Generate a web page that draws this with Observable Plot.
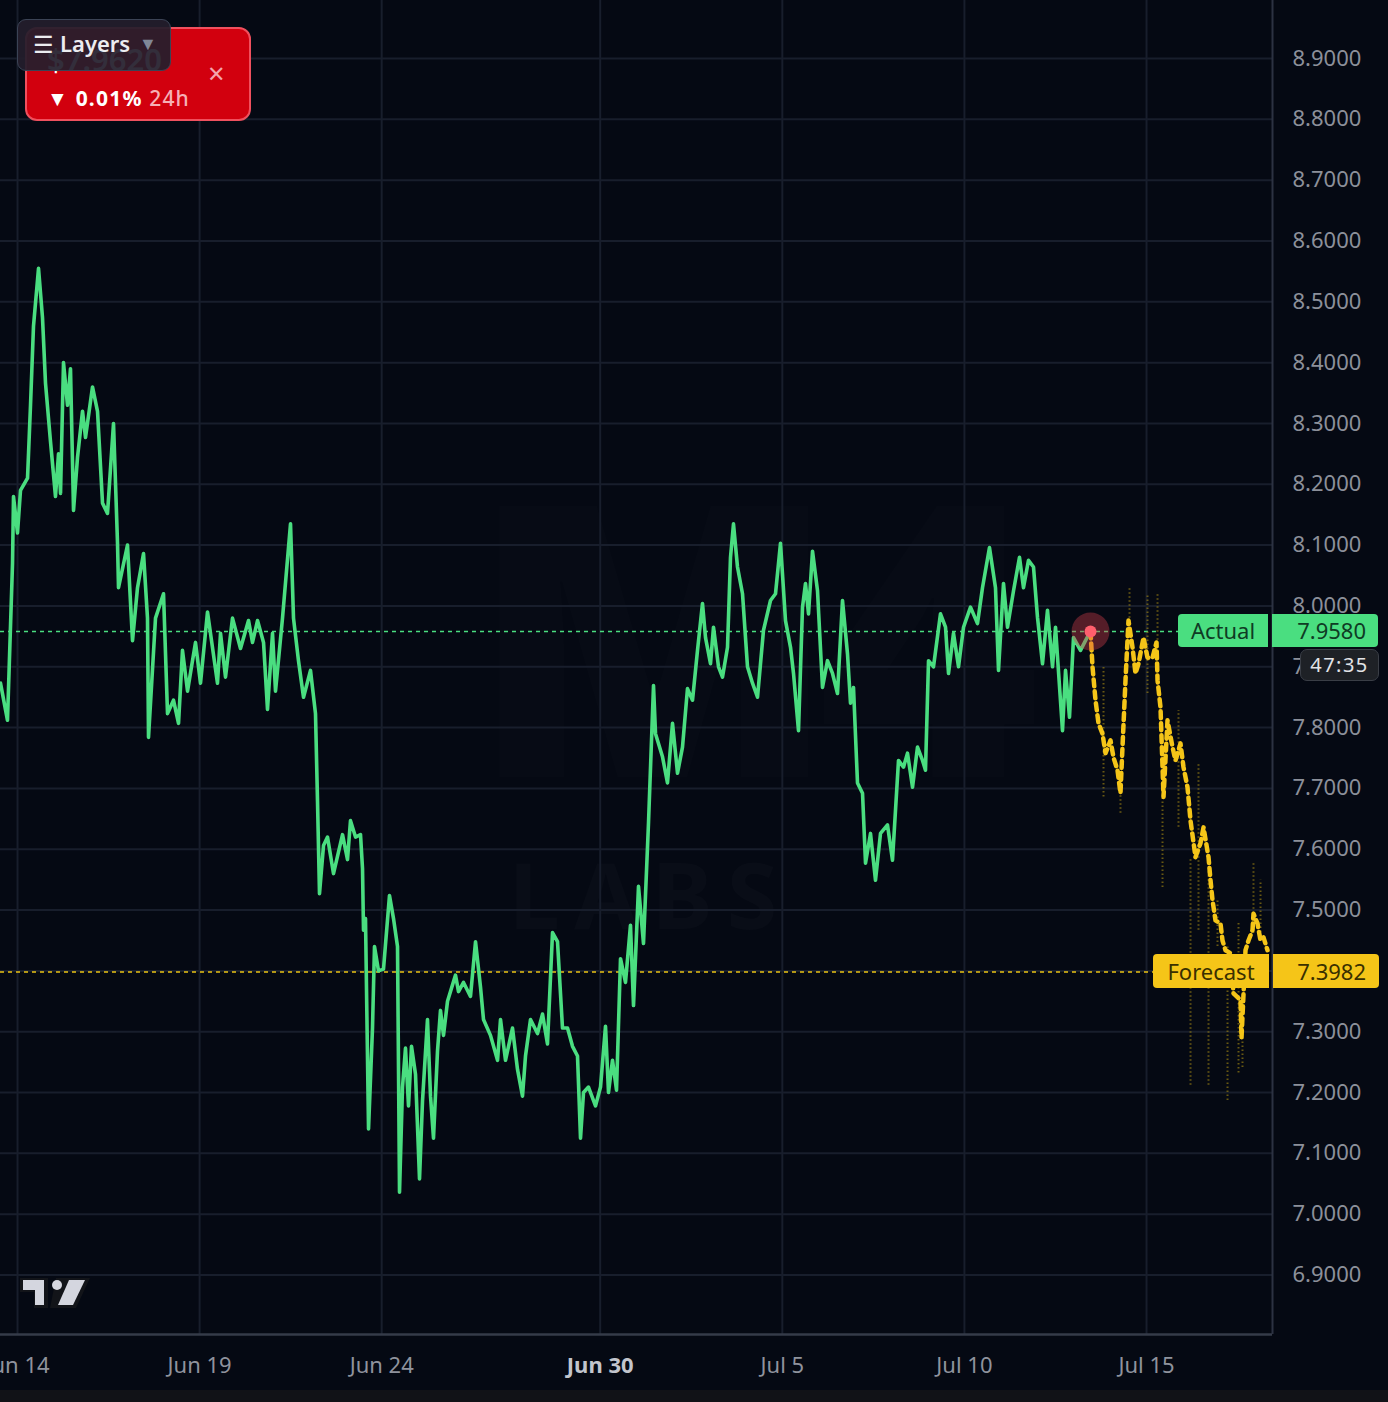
<!DOCTYPE html>
<html><head><meta charset="utf-8">
<script src="https://cdn.jsdelivr.net/npm/d3@7"></script>
<script src="https://cdn.jsdelivr.net/npm/@observablehq/plot@0.6"></script>
<style>
html,body{margin:0;padding:0;background:#050913;}
#wrap{position:relative;width:1388px;height:1402px;overflow:hidden;background:#050913;font-family:"Noto Sans",sans-serif;}
#band{position:absolute;left:0;top:1390px;width:1388px;height:12px;background:#111217;}
.abs{position:absolute;box-sizing:border-box;}
</style></head>
<body><div id="wrap"></div>
<script>
// ---- data (days since 14 Jun 2024 00:00 UTC) ----
const actualDay = [-0.467,-0.275,-0.137,-0.110,0,0.082,0.275,0.357,0.439,0.577,0.686,0.769,0.906,1.043,1.126,1.181,1.263,1.373,1.455,1.538,1.647,1.785,1.867,2.059,2.197,2.334,2.471,2.636,2.746,2.773,3.020,3.158,3.295,3.460,3.569,3.597,3.789,4.009,4.119,4.283,4.421,4.530,4.668,4.887,5.025,5.217,5.491,5.574,5.711,5.903,6.123,6.343,6.452,6.590,6.755,6.864,7.002,7.084,7.276,7.496,7.578,7.715,7.853,8.045,8.182,8.237,8.292,8.402,8.512,8.676,8.924,9.061,9.143,9.281,9.418,9.473,9.500,9.555,9.638,9.747,9.802,9.912,10.049,10.214,10.324,10.434,10.489,10.571,10.653,10.736,10.818,10.928,11.038,11.120,11.257,11.340,11.422,11.532,11.614,11.697,11.807,12.026,12.109,12.246,12.438,12.576,12.713,12.795,12.987,13.180,13.262,13.399,13.591,13.729,13.866,13.948,14.086,14.278,14.415,14.552,14.690,14.827,14.964,15.102,15.239,15.376,15.459,15.541,15.678,15.870,16.008,16.145,16.227,16.337,16.447,16.557,16.694,16.831,16.914,17.051,17.188,17.326,17.463,17.518,17.710,17.847,17.985,18.122,18.259,18.396,18.534,18.671,18.808,18.891,19.028,19.110,19.248,19.357,19.495,19.577,19.659,19.769,19.907,20.044,20.181,20.319,20.483,20.675,20.813,20.950,21.087,21.225,21.307,21.444,21.554,21.636,21.719,21.829,21.966,22.103,22.240,22.378,22.515,22.652,22.790,22.872,22.954,23.064,23.202,23.284,23.421,23.558,23.696,23.888,24.025,24.190,24.327,24.437,24.575,24.712,24.849,24.931,25.014,25.151,25.343,25.481,25.563,25.700,25.838,25.975,26.167,26.359,26.496,26.688,26.853,26.936,27.073,27.183,27.348,27.512,27.622,27.759,27.897,28.007,28.144,28.281,28.419,28.501,28.693,28.776,28.885,28.995,29.187,29.324,29.462];
const actualPrice = [7.873,7.812,8.07,8.18,8.12,8.19,8.21,8.33,8.46,8.555,8.474,8.366,8.27,8.18,8.25,8.185,8.40,8.33,8.39,8.157,8.244,8.32,8.277,8.36,8.32,8.169,8.152,8.30,8.103,8.03,8.10,7.943,8.03,8.086,7.98,7.784,7.98,8.02,7.823,7.845,7.807,7.927,7.86,7.94,7.873,7.99,7.873,7.955,7.883,7.98,7.93,7.976,7.94,7.976,7.94,7.83,7.955,7.86,7.98,8.135,7.98,7.91,7.85,7.894,7.823,7.68,7.527,7.606,7.62,7.56,7.624,7.583,7.647,7.62,7.624,7.568,7.467,7.486,7.14,7.306,7.44,7.40,7.403,7.524,7.486,7.44,7.036,7.209,7.273,7.178,7.276,7.23,7.058,7.186,7.32,7.194,7.125,7.268,7.335,7.294,7.35,7.393,7.366,7.381,7.358,7.448,7.373,7.32,7.294,7.253,7.32,7.253,7.306,7.238,7.194,7.26,7.32,7.297,7.329,7.28,7.463,7.448,7.306,7.306,7.276,7.26,7.125,7.2,7.209,7.178,7.209,7.309,7.2,7.253,7.204,7.42,7.381,7.475,7.343,7.539,7.445,7.644,7.869,7.79,7.752,7.709,7.807,7.725,7.768,7.864,7.845,7.927,8.004,7.948,7.905,7.965,7.9,7.883,7.932,8.08,8.135,8.064,8.02,7.9,7.873,7.85,7.96,8.009,8.02,8.103,7.976,7.932,7.889,7.795,7.998,8.037,7.987,8.09,8.025,7.866,7.91,7.889,7.856,8.009,7.921,7.84,7.866,7.709,7.692,7.577,7.626,7.549,7.626,7.64,7.582,7.746,7.735,7.758,7.702,7.768,7.746,7.73,7.91,7.9,7.987,7.965,7.889,7.955,7.9,7.965,7.998,7.971,8.03,8.096,8.03,7.894,8.037,7.965,8.025,8.08,8.03,8.075,8.064,7.981,7.905,7.993,7.9,7.965,7.795,7.894,7.817,7.948,7.927,7.943,7.958];
const forecastDay = [29.462,29.517,29.599,29.682,29.791,29.874,30.011,30.093,30.203,30.285,30.340,30.423,30.505,30.615,30.697,30.780,30.917,31.027,31.164,31.274,31.302,31.384,31.467,31.576,31.713,31.796,31.933,32.015,32.125,32.208,32.345,32.482,32.565,32.702,32.757,32.812,32.894,33.031,33.086,33.169,33.306,33.388,33.580,33.608,33.718,33.800,33.910,33.937,34.047,34.130,34.212,34.322];
const forecastPrice = [7.958,7.9,7.845,7.807,7.79,7.758,7.779,7.751,7.73,7.692,7.768,7.878,7.976,7.932,7.889,7.905,7.948,7.915,7.915,7.94,7.878,7.833,7.686,7.812,7.768,7.746,7.774,7.735,7.702,7.647,7.587,7.61,7.636,7.587,7.549,7.516,7.483,7.478,7.45,7.434,7.429,7.363,7.352,7.29,7.434,7.45,7.467,7.494,7.478,7.45,7.455,7.434];
const rangeDay  = [29.819,30.285,30.533,31.027,31.302,31.439,31.878,32.208,32.427,32.702,32.949,33.224,33.526,33.635,33.937,34.130];
const rangeLow  = [7.686,7.659,7.96,7.856,7.878,7.537,7.636,7.212,7.467,7.212,7.44,7.187,7.232,7.241,7.462,7.45];
const rangeHigh = [7.90,7.725,8.03,8.02,8.02,7.702,7.828,7.587,7.74,7.566,7.516,7.44,7.478,7.33,7.577,7.549];
const yTicks = [6.9,7.0,7.1,7.2,7.3,7.4,7.5,7.6,7.7,7.8,7.9,8.0,8.1,8.2,8.3,8.4,8.5,8.6,8.7,8.8,8.9];
const xTickDay = [0,5,10,16,21,26,31];
const xTickLabel = ["Jun 14","Jun 19","Jun 24","Jun 30","Jul 5","Jul 10","Jul 15"];
const boldTick = "Jun 30";
const actualLast = 7.958;
const forecastLast = 7.3982;
const countdown = "47:35";
const prevPrice = "$7.9620";
const change24 = "0.01%";

// ---- build ----
const START = Date.UTC(2024,5,14);
const toDate = d => new Date(START + d*864e5);
const actual = actualDay.map((d,i)=>({t:toDate(d), v:actualPrice[i]}));
const forecast = forecastDay.map((d,i)=>({t:toDate(d), v:forecastPrice[i]}));
const ranges = rangeDay.map((d,i)=>({t:toDate(d), lo:rangeLow[i], hi:rangeHigh[i]}));
const xTicks = xTickDay.map(toDate);
const labelOf = new Map(xTickDay.map((d,i)=>[+toDate(d), xTickLabel[i]]));
const normalTicks = xTicks.filter(d=>labelOf.get(+d)!==boldTick);
const boldTicks = xTicks.filter(d=>labelOf.get(+d)===boldTick);
// the 7.4 label sits fully under the Forecast price tag, so it is not drawn
const labelTicks = yTicks.filter(v=>Math.abs(v-forecastLast)>0.03);
const xDomain = [toDate(-0.467), toDate(34.459)];
const yDomain = [6.8022, 8.9954];
const GRID = "#181e2c";

const chart = Plot.plot({
  width:1388, height:1390, marginTop:0, marginLeft:0, marginRight:116, marginBottom:56,
  x:{type:"utc", domain:xDomain},
  y:{domain:yDomain},
  style:{background:"transparent", fontFamily:"'Noto Sans', sans-serif", color:"#8a8e98"},
  marks:[
    Plot.ruleY(yTicks,{stroke:GRID, strokeWidth:2}),
    Plot.ruleX(xTicks,{stroke:GRID, strokeWidth:2}),
    Plot.ruleY([actualLast],{stroke:"#4ade80", strokeWidth:1.6, strokeDasharray:"4,4"}),
    Plot.ruleY([forecastLast],{stroke:"#e9c214", strokeWidth:1.6, strokeDasharray:"4,4"}),
    Plot.ruleX(ranges,{x:"t", y1:"lo", y2:"hi", stroke:"#8a7414", strokeWidth:2, strokeDasharray:"1.5,2.5", strokeOpacity:0.75}),
    Plot.line(actual,{x:"t", y:"v", stroke:"#4ade80", strokeWidth:3.6, strokeLinejoin:"round"}),
    Plot.line(forecast,{x:"t", y:"v", stroke:"#f5c518", strokeWidth:4.5, strokeDasharray:"7,5"}),
    Plot.dot([actual[actual.length-1]],{x:"t", y:"v", r:19, fill:"#d8404c", fillOpacity:0.38, stroke:null}),
    Plot.dot([actual[actual.length-1]],{x:"t", y:"v", r:6, fill:"#ff5f6d", stroke:null}),
    Plot.ruleY([yDomain[0]],{stroke:"#353b49", strokeWidth:2.5}),
    Plot.ruleX([xDomain[1]],{stroke:"#2c3242", strokeWidth:2}),
    Plot.axisY(labelTicks,{anchor:"right", tickSize:0, tickPadding:20, tickFormat:d=>d.toFixed(4), fontSize:22, fill:"#8c909a", label:null}),
    Plot.axisX(normalTicks,{tickSize:0, tickPadding:23, tickFormat:d=>labelOf.get(+d), fontSize:22, fill:"#8f939d", label:null}),
    Plot.axisX(boldTicks,{tickSize:0, tickPadding:23, tickFormat:d=>labelOf.get(+d), fontSize:22, fontWeight:"bold", fill:"#c2c5cd", label:null})
  ]
});

const wrap = document.getElementById("wrap");
// faint watermark
const wm = document.createElement("div");
wm.className="abs";
wm.style.cssText="left:470px;top:440px;width:360px;text-align:center;font-size:380px;font-weight:900;line-height:1;color:rgba(255,255,255,0.012);letter-spacing:-20px;";
wm.textContent="M4";
wrap.appendChild(wm);
const wm2 = document.createElement("div");
wm2.className="abs";
wm2.style.cssText="left:470px;top:848px;width:360px;text-align:center;font-size:92px;font-weight:700;line-height:1;color:rgba(255,255,255,0.02);letter-spacing:14px;";
wm2.textContent="LABS";
wrap.appendChild(wm2);

chart.style.position="absolute"; chart.style.left="0"; chart.style.top="0";
wrap.appendChild(chart);
const band = document.createElement("div"); band.id="band"; wrap.appendChild(band);

const ys = chart.scale("y");
const yA = ys.apply(actualLast), yF = ys.apply(forecastLast);
function box(css, html){const d=document.createElement("div");d.className="abs";d.style.cssText=css;d.innerHTML=html;wrap.appendChild(d);return d;}
// Actual labels
box(`left:1178px;top:${yA-16.5}px;width:90px;height:33px;background:#4ade80;border-radius:4px 0 0 4px;color:#0f3b24;font-size:22px;line-height:33px;text-align:center;`,"Actual");
box(`left:1272px;top:${yA-16.5}px;width:106px;height:33px;background:#4ade80;border-radius:0 4px 4px 0;color:#0f3b24;font-size:22px;line-height:33px;text-align:right;padding-right:12px;`,actualLast.toFixed(4));
box(`left:1300px;top:${yA+18}px;width:79px;height:32px;background:#1e2126;border:1.5px solid #3a3e46;border-radius:7px;color:#e2e3e6;font-size:20px;line-height:29px;text-align:center;letter-spacing:1.5px;`,countdown);
// Forecast labels
box(`left:1153px;top:${yF-17}px;width:116px;height:34px;background:#f5c518;border-radius:4px 0 0 4px;color:#3a3000;font-size:22px;line-height:34px;text-align:center;`,"Forecast");
box(`left:1273px;top:${yF-17}px;width:106px;height:34px;background:#f5c518;border-radius:0 4px 4px 0;color:#3a3000;font-size:22px;line-height:34px;text-align:right;padding-right:13px;`,forecastLast.toFixed(4));
// red panel
box(`left:25px;top:27px;width:226px;height:94px;background:#d2000e;border:2px solid #f0505e;border-radius:12px;`,
 `<div class="abs" style="left:20px;top:15px;font-size:31px;font-weight:600;color:#fff;line-height:1;">${prevPrice}</div>
  <div class="abs" style="left:181px;top:29px;font-size:29px;color:#f3a5ad;line-height:1;">×</div>
  <div class="abs" style="left:20px;top:57px;font-size:21px;font-weight:700;color:#fff;line-height:1.2;letter-spacing:1.2px;white-space:nowrap;">▼ ${change24} <span style="font-weight:500;color:#f6b0b6;">24h</span></div>`);
// Layers button
box(`left:17px;top:19px;width:154px;height:52px;background:rgba(36,30,44,0.93);border:1.5px solid #3b4355;border-radius:9px;color:#ececf0;white-space:nowrap;`,
 `<span class="abs" style="left:15px;top:8px;font-size:23px;line-height:1.4;">☰</span>
  <span class="abs" style="left:42px;top:8px;font-size:22px;font-weight:600;line-height:1.4;">Layers</span>
  <span class="abs" style="left:121px;top:11px;font-size:18px;color:#7f8797;line-height:1.4;">▼</span>`);
// TradingView logo
box(`left:18px;top:1274px;width:74px;height:40px;`,
 `<svg width="74" height="40" viewBox="0 0 74 40">
   <path d="M2 4 H30 V34 H16 V18 H2 Z M38 4 L72 4 L58 34 L32 34 Z" fill="#121419"/>
   <path d="M5 6 H26 V31 H17 V16 H5 Z" fill="#d4d6df"/>
   <circle cx="39" cy="11" r="5" fill="#d4d6df"/>
   <path d="M51 6 H67 L55 31 H40 Z" fill="#d4d6df"/>
  </svg>`);
</script>
</body></html>
